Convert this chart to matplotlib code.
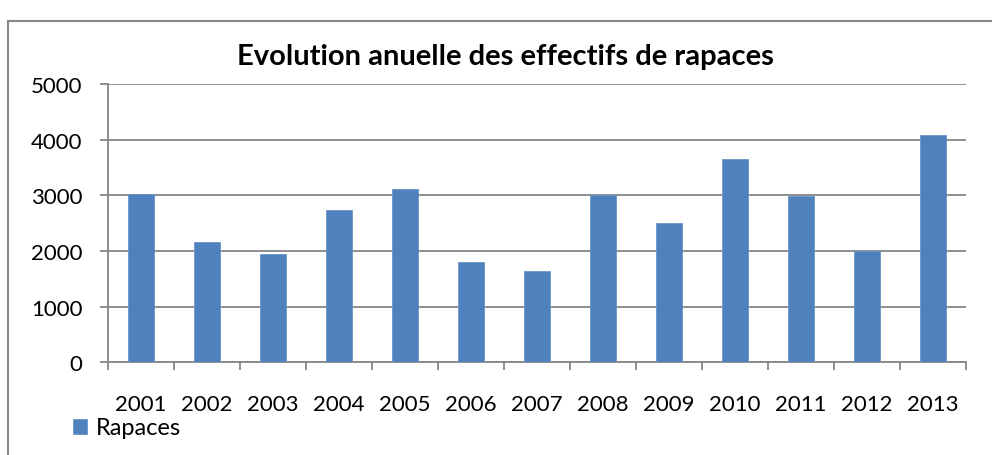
import matplotlib
matplotlib.use("Agg")
import matplotlib.pyplot as plt
from matplotlib.patches import Rectangle

# data
years   = ["2001", "2002", "2003", "2004", "2005", "2006", "2007",
           "2008", "2009", "2010", "2011", "2012", "2013"]
rapaces = [3020, 2160, 1945, 2740, 3110, 1805, 1635,
           3010, 2495, 3655, 2985, 2005, 4075]
series_name = "Rapaces"
title = "Evolution anuelle des effectifs de rapaces"

plt.rcParams["font.family"] = ["Lato", "DejaVu Sans"]
grey = "#868686"
blue = "#4F81BD"

fig = plt.figure(figsize=(9.92, 4.56), dpi=100)
ax = fig.add_axes([0.1086, 0.2033, 0.8649, 0.6103])

# chart area border
fig.patches.append(Rectangle((8 / 992, -0.1), 1.1, (456 - 22) / 456 + 0.1,
                              transform=fig.transFigure, fill=False,
                              edgecolor=grey, lw=1.5))

x = range(len(years))
ax.bar(x, rapaces, width=0.4, color=blue, edgecolor="#6A95C9", lw=0.6,
       label=series_name, zorder=3)

ax.set_xlim(-0.5, len(years) - 0.5)
ax.set_ylim(0, 5000)
ax.set_yticks(range(0, 5001, 1000))
ax.yaxis.grid(True, color=grey, lw=1.3, zorder=0)

# ticks at category boundaries, labels at centres
ax.set_xticks([i - 0.5 for i in range(len(years) + 1)])
ax.set_xticklabels([])
ax.set_xticks(list(x), minor=True)
ax.set_xticklabels(years, minor=True)
ax.tick_params(axis="x", which="major", length=6, width=1.3, color=grey)
ax.tick_params(axis="x", which="minor", length=0, pad=23, labelsize=16)
ax.tick_params(axis="y", length=6, width=1.3, color=grey, pad=12, labelsize=16)

for s in ["top", "right"]:
    ax.spines[s].set_visible(False)
for s in ["left", "bottom"]:
    ax.spines[s].set_color(grey)
    ax.spines[s].set_linewidth(1.3)

fig.text(505 / 992, 1 - 57 / 456, title, ha="center", va="center",
         fontsize=21, fontweight="bold")

fig.legend(loc="center left", bbox_to_anchor=(73 / 992, 1 - 429 / 456),
           frameon=False, fontsize=17, handlelength=0.6, handleheight=0.6,
           handletextpad=0.35, borderpad=0, borderaxespad=0)

fig.savefig("out.png", dpi=100)
